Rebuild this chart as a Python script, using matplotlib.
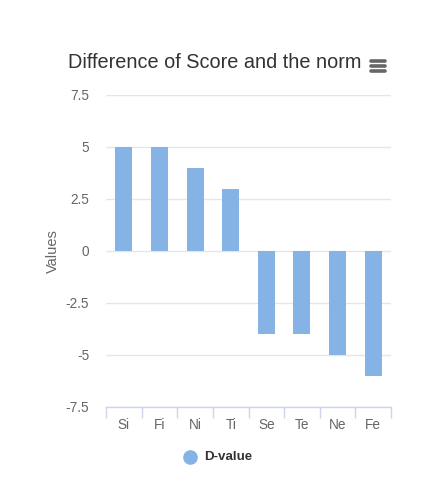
import matplotlib
matplotlib.use("Agg")
import matplotlib.pyplot as plt
from matplotlib.lines import Line2D

categories = ["Si", "Fi", "Ni", "Ti", "Se", "Te", "Ne", "Fe"]
values = [5, 5, 4, 3, -4, -4, -5, -6]
yticks = [-7.5, -5, -2.5, 0, 2.5, 5, 7.5]
yticklabels = ["-7.5", "-5", "-2.5", "0", "2.5", "5", "7.5"]

plt.rcParams['font.family'] = ['Liberation Sans', 'DejaVu Sans']

fig = plt.figure(figsize=(4.32, 5.0), dpi=100)
ax = fig.add_axes([106/432, 1-407/500, (391-106)/432, (407-95)/500])

x = list(range(len(categories)))
ax.bar(x, values, width=0.48, color="#85b3e6", zorder=3)

ax.set_xlim(-0.5, len(categories) - 0.5)
ax.set_ylim(-7.5, 7.5)
ax.set_yticks(yticks)
ax.set_yticklabels(yticklabels)
ax.set_xticks(x)
ax.set_xticklabels(categories)
ax.yaxis.grid(True, color="#e6e6e6", linewidth=1, zorder=0)
ax.tick_params(axis='y', length=0, pad=12, labelsize=9.8, labelcolor="#666666")
ax.tick_params(axis='x', length=0, pad=8, labelsize=9.8, labelcolor="#666666")
for s in ["top", "right", "left"]:
    ax.spines[s].set_visible(False)
ax.spines["bottom"].set_color("#ccd6eb")
ax.spines["bottom"].set_linewidth(1)
ax.spines["bottom"].set_zorder(4)

# boundary ticks
ax.set_xticks([i - 0.5 for i in range(len(categories) + 1)], minor=True)
ax.tick_params(axis='x', which='minor', length=8, color="#ccd6eb", width=1, direction='out')

ax.set_ylabel("Values", fontsize=10.5, color="#666666", labelpad=4)

fig.text(215/432, 1 - 62/500, "Difference of Score and the norm", ha="center", va="center",
         fontsize=14.3, color="#333333")

# hamburger icon
for yy in (61, 66, 71):
    fig.add_artist(Line2D([371/432, 385/432], [1 - yy/500] * 2, color="#666666",
                          linewidth=2.6, solid_capstyle="round"))

# legend
fig.add_artist(Line2D([190/432], [1 - 457/500], marker="o", markersize=9.5,
                      color="#85b3e6", linestyle="none"))
fig.text(204/432, 1 - 457/500, "D-value", ha="left", va="center", fontsize=9.6,
         fontweight="bold", color="#333333")

fig.savefig("out.png", dpi=100)
